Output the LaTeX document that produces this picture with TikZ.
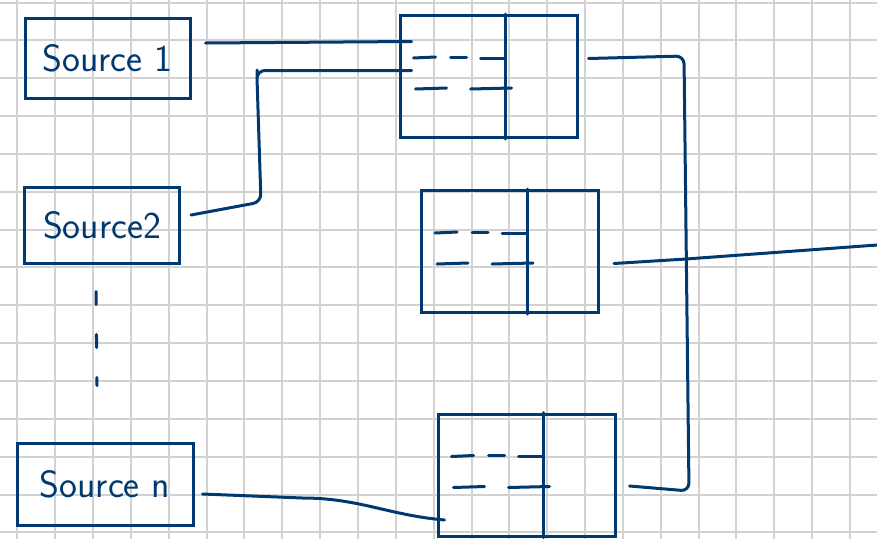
\documentclass[tikz,border=0pt]{standalone}
\usepackage{tikz}
\usetikzlibrary{calc}
\definecolor{penblue}{RGB}{0,56,112}
\definecolor{gridgray}{RGB}{210,210,210}

\tikzset{
  wire/.style={penblue, line width=3pt, line cap=round, line join=round},
  srcbox/.style={draw=penblue, line width=3pt, text=penblue, inner sep=0pt,
    font=\sffamily\fontsize{38}{40}\selectfont},
  tblbox/.style={draw=penblue, line width=3pt, minimum width=177pt, minimum height=122pt}
}

\begin{document}
\begin{tikzpicture}[x=1pt,y=-1pt]
  \useasboundingbox (0,0) rectangle (877,539);
  \fill[white] (0,0) rectangle (877,539);
  % Squared paper
  \foreach \i in {0,...,22}
    \draw[gridgray, line width=2pt] (17.3+37.85*\i,0) -- (17.3+37.85*\i,539);
  \foreach \j in {0,...,14}
    \draw[gridgray, line width=2pt] (0,2.5+37.85*\j) -- (877,2.5+37.85*\j);
  % Sources (left side)
  \node[srcbox, minimum width=165pt, minimum height=80pt] (src1) at (107.5,58) {Source 1};
  \node[srcbox, minimum width=155pt, minimum height=76pt] (src2) at (102,225) {Source2};
  \node[srcbox, minimum width=176pt, minimum height=82pt] (srcn) at (105,484) {Source n};
  \draw[wire, dash pattern=on 13pt off 30pt] ([shift={(-6,27)}]src2.south) -- ([shift={(-8,-56)}]srcn.north);
  % Tables (middle)
  \node[tblbox] (tabA) at (488.5,76.5) {};
  \node[tblbox] (tabB) at (510,251.5) {};
  \node[tblbox] (tabC) at (526.5,475) {};
  \foreach \t in {tabA,tabB,tabC} {
    \draw[wire] ([xshift=107pt]\t.north west) -- ([xshift=107pt]\t.south west);
    \draw[wire] ($(\t.north west)+(15,44)$) -- ++(22,-1);
    \draw[wire] ($(\t.north west)+(52,43)$) -- ++(16,0);
    \draw[wire] ($(\t.north west)+(82,44)$) -- ++(24,0);
    \draw[wire] ($(\t.north west)+(17,75)$) -- ++(31,-1);
    \draw[wire] ($(\t.north west)+(72,75)$) -- ++(41,-1);
  }
  % Bus and output (right side)
  \coordinate (busTop) at (684,56);
  \coordinate (busMid) at (686,259);
  \coordinate (busBot) at (689,491);
  \coordinate (out) at (877,245);
  % Wires
  \draw[wire] ([shift={(14,-15)}]src1.east) -- ([shift={(13,-35)}]tabA.west);
  \draw[wire, rounded corners=8pt] ([shift={(10,-10)}]src2.east) -- ++(70,-13)
    -- ++(-4,-124) |- ([shift={(13,-6)}]tabA.west);
  \draw[wire] ([shift={(8,10)}]srcn.east) -- ++(100,4) to[out=0,in=175] ([shift={(8,45)}]tabC.west);
  \draw[wire, rounded corners=8pt] ([shift={(10,-18)}]tabA.east) -- (busTop) -- (busBot)
    -- ([shift={(13,11)}]tabC.east);
  \draw[wire] ([shift={(14,12)}]tabB.east) -- (busMid);
  \draw[wire] (busMid) -- (out);
\end{tikzpicture}
\end{document}
